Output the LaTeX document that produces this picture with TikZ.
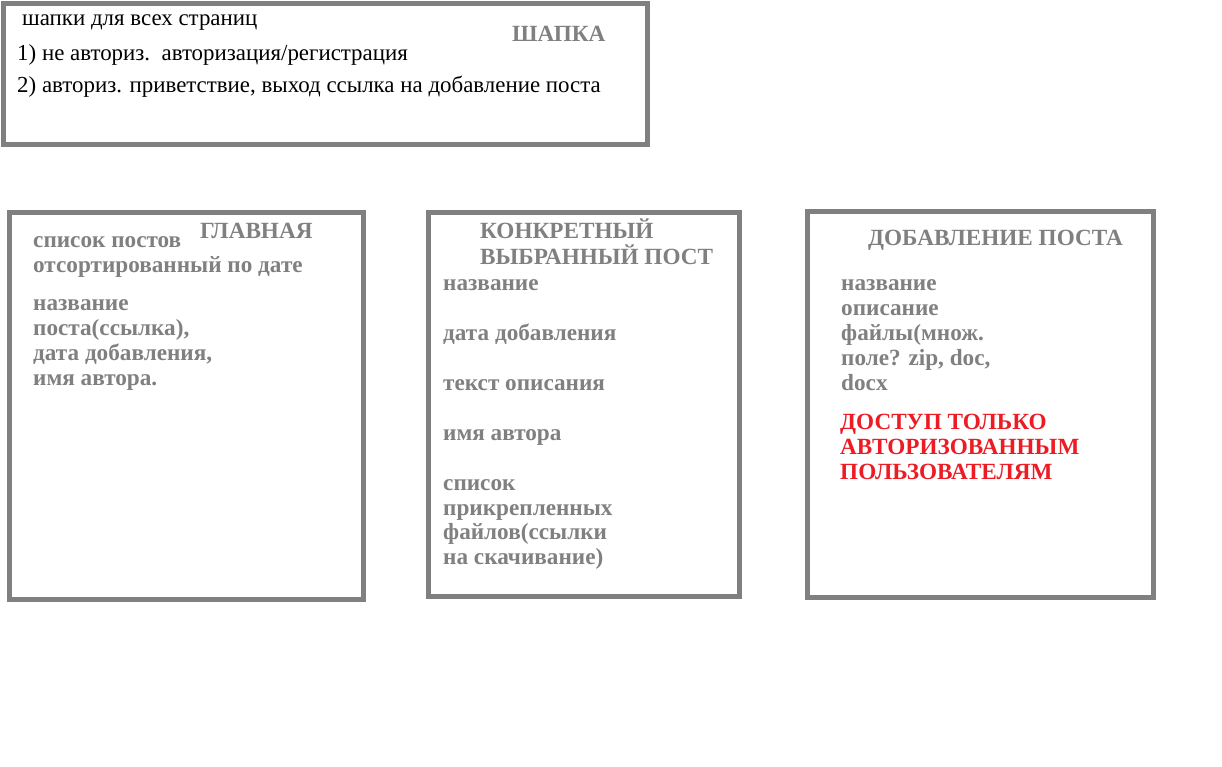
\documentclass[tikz,border=0pt]{standalone}
\usepackage{fontspec}
\setmainfont{Liberation Serif}
\definecolor{boxgray}{RGB}{128,128,128}
\definecolor{warnred}{RGB}{237,28,36}
\begin{document}
\begin{tikzpicture}[x=1pt,y=-1pt,
  pagebox/.style={draw=boxgray, line width=5pt, rectangle, inner sep=0pt},
  plain/.style={anchor=base west, inner sep=0pt, font=\fontsize{22.9}{25}\selectfont, text=black},
  item/.style={anchor=base west, inner sep=0pt, font=\fontsize{23.2}{25}\selectfont\bfseries, text=boxgray},
  ttl/.style={item},
  warn/.style={anchor=base west, inner sep=0pt, font=\fontsize{23.2}{25}\selectfont\bfseries, text=warnred}]
\useasboundingbox (0,0) rectangle (1222,767);
\fill[white] (0,0) rectangle (1222,767);
% boxes
\node[pagebox, minimum width=644pt, minimum height=141pt] (hdr) at (325.5,74) {};
\node[pagebox, minimum width=354pt, minimum height=387pt] (main) at (186.5,406) {};
\node[pagebox, minimum width=311pt, minimum height=384pt] (post) at (584,404.5) {};
\node[pagebox, minimum width=346pt, minimum height=386pt] (add) at (980.5,404.5) {};
\begin{scope}[shift={(0,1.5)}]
% header
\node[plain] (h0) at (22,24) {шапки для всех страниц};
\node[ttl] (h1) at (512,40.5) {ШАПКА};
\node[plain] (h2) at (17,59) {1) не авториз.\ \ авторизация/регистрация};
\node[plain] (h3) at (17,91) {2) авториз. приветствие, выход ссылка на добавление поста};
% main
\node[ttl] (m0) at (200,236.5) {ГЛАВНАЯ};
\node[item] (m1) at (33,246) {список постов};
\node[item] (m2) at (33,271) {отсортированный по дате};
\node[item] (m3) at (33,309) {название};
\node[item] (m4) at (33,334) {поста(ссылка),};
\node[item] (m5) at (33,359) {дата добавления,};
\node[item] (m6) at (33,384) {имя автора.};
% post
\node[ttl] (p0) at (480,237.5) {КОНКРЕТНЫЙ};
\node[ttl] (p1) at (480,262.5) {ВЫБРАННЫЙ ПОСТ};
\node[item] (p2) at (443,289) {название};
\node[item] (p3) at (443,339) {дата добавления};
\node[item] (p4) at (443,389) {текст описания};
\node[item] (p5) at (443,439) {имя автора};
\node[item] (p6) at (443,489) {список};
\node[item] (p7) at (443,514) {прикрепленных};
\node[item] (p8) at (443,538) {файлов(ссылки};
\node[item] (p9) at (443,563) {на скачивание)};
% add
\node[ttl] (a0) at (868,244.5) {ДОБАВЛЕНИЕ ПОСТА};
\node[item] (a1) at (841,289) {название};
\node[item] (a2) at (841,314) {описание};
\node[item] (a3) at (841,339) {файлы(множ.};
\node[item] (a4) at (841,364) {поле? zip, doc,};
\node[item] (a5) at (841,389) {docx};
\node[warn] (a6) at (840,427.5) {ДОСТУП ТОЛЬКО};
\node[warn] (a7) at (840,452.5) {АВТОРИЗОВАННЫМ};
\node[warn] (a8) at (840,477.5) {ПОЛЬЗОВАТЕЛЯМ};
\end{scope}
\end{tikzpicture}
\end{document}
